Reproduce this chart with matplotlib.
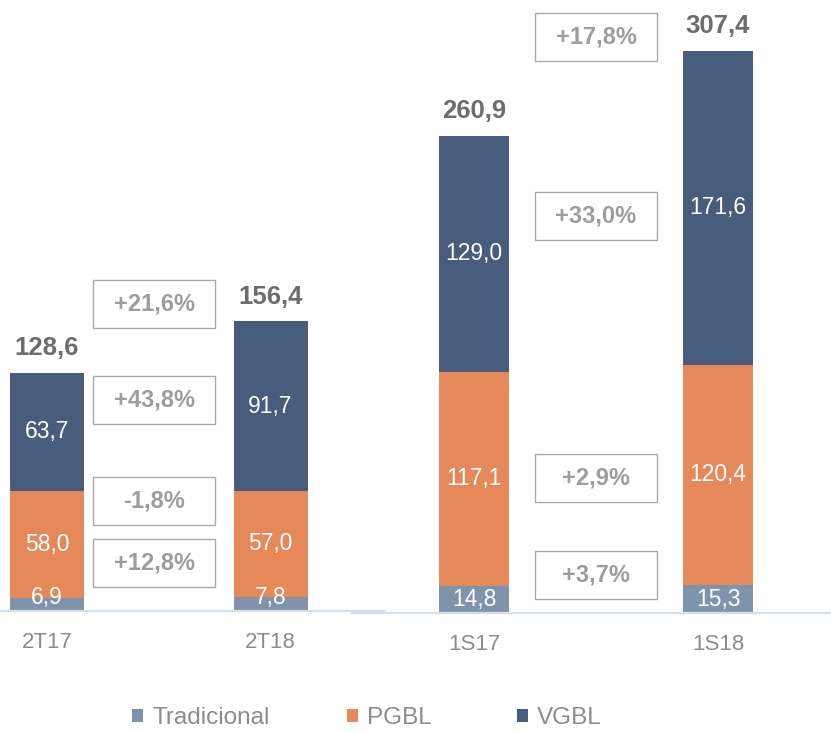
import matplotlib.pyplot as plt
from matplotlib.patches import Rectangle, Patch

plt.rcParams['font.family'] = ['Liberation Sans', 'DejaVu Sans']

series = ['Tradicional', 'PGBL', 'VGBL']
colors = ['#7f93ac', '#e5895a', '#475d7b']

# trimestre
tri_labels = ['2T17', '2T18']
tri_trad = [6.9, 7.8]
tri_pgbl = [58.0, 57.0]
tri_vgbl = [63.7, 91.7]
tri_total = [128.6, 156.4]
tri_var = ['+21,6%', '+43,8%', '-1,8%', '+12,8%']   # total, VGBL, PGBL, Tradicional

# semestre
sem_labels = ['1S17', '1S18']
sem_trad = [14.8, 15.3]
sem_pgbl = [117.1, 120.4]
sem_vgbl = [129.0, 171.6]
sem_total = [260.9, 307.4]
sem_var = ['+17,8%', '+33,0%', '+2,9%', '+3,7%']

def fmt(v):
    return f'{v:.1f}'.replace('.', ',')

W, H = 831, 732
fig = plt.figure(figsize=(W / 100, H / 100), dpi=100)

def panel(rect, xlim, ylim, width, labels, trad, pgbl, vgbl, total, var, box_x, box_y, box_w, box_h):
    ax = fig.add_axes(rect)
    ax.set_facecolor('none')
    x = list(range(len(labels)))
    bottom = [0] * len(x)
    for vals, c in zip([trad, pgbl, vgbl], colors):
        bars = ax.bar(x, vals, width, bottom=bottom, color=c, linewidth=0)
        for b, v, b0 in zip(bars, vals, bottom):
            # small segments: keep the label from dropping below the axis
            ly = max(b0 + v / 2, 7.5)
            ax.text(b.get_x() + b.get_width() / 2, ly, fmt(v),
                    ha='center', va='center', color='white', fontsize=16.5)
        bottom = [a + b for a, b in zip(bottom, vals)]
    for xi, t in zip(x, total):
        ax.annotate(fmt(t), (xi, t), xytext=(0, 9), textcoords='offset points',
                    ha='center', va='bottom', fontsize=18.5, fontweight='bold', color='#6d6d6d')
    for txt, yb in zip(var, box_y):
        ax.add_patch(Rectangle((box_x - box_w / 2, yb - box_h / 2), box_w, box_h,
                               facecolor='white', edgecolor='#a9a9a9', linewidth=1))
        ax.text(box_x, yb, txt, ha='center', va='center', fontsize=17,
                fontweight='bold', color='#9d9d9d')
    ax.set_xlim(*xlim)
    ax.set_ylim(*ylim)
    ax.set_xticks(x)
    ax.set_xticklabels(labels, fontsize=16, color='#8c8c8c')
    ax.tick_params(axis='x', length=0, pad=15)
    ax.set_yticks([])
    for s in ['top', 'left', 'right']:
        ax.spines[s].set_visible(False)
    ax.spines['bottom'].set_color('#d4dff0')
    ax.spines['bottom'].set_linewidth(1.6)
    return ax

panel([0, (H - 611) / H, 385 / W, 611 / H], (-0.210, 1.512), (0, 329.9), 0.331,
      tri_labels, tri_trad, tri_pgbl, tri_vgbl, tri_total, tri_var,
      0.479, [165.8, 114.0, 59.4, 26.0], 0.546, 25.9)
panel([352 / W, (H - 613) / H, (W - 352) / W, 613 / H], (-0.5, 1.463), (0, 335.0), 0.287,
      sem_labels, sem_trad, sem_pgbl, sem_vgbl, sem_total, sem_var,
      0.5, [315.0, 217.0, 74.0, 21.0], 0.5, 26.2)

# legenda
for name, c, lx in zip(series, colors, [132, 347, 517]):
    fig.legend(handles=[Patch(facecolor=c, edgecolor='none')], labels=[name],
               loc='center left', bbox_to_anchor=(lx / W, (H - 718) / H),
               frameon=False, fontsize=17.5, labelcolor='#8c8c8c',
               handlelength=0.45, handleheight=0.45, handletextpad=0.38,
               borderpad=0, borderaxespad=0)

fig.savefig('out.png', dpi=100)
